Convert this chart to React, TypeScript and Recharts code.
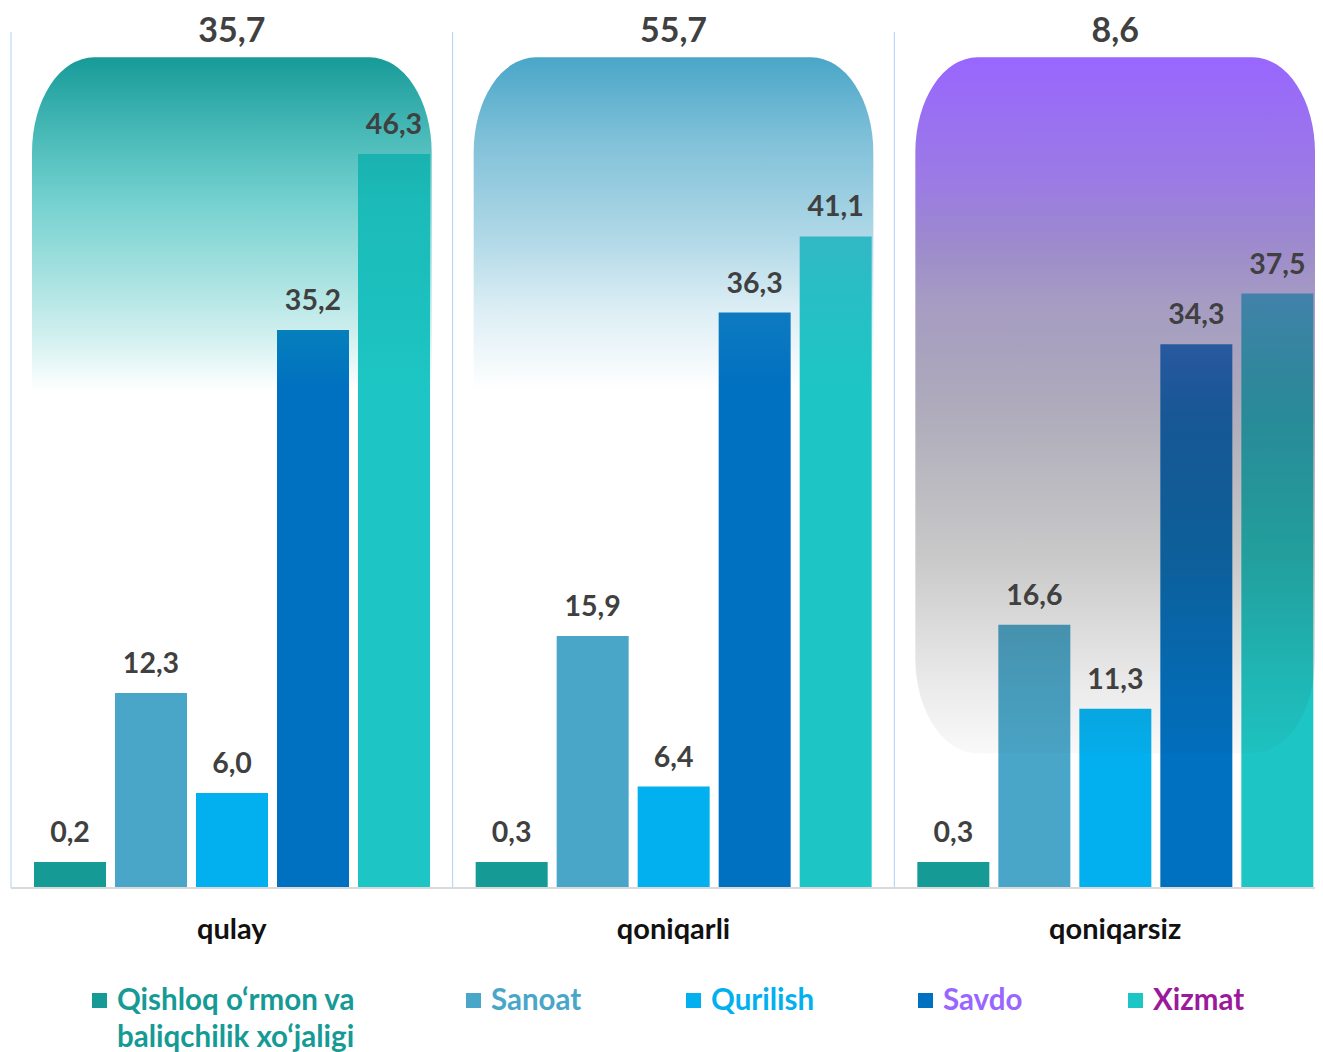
import React from "react";
import { BarChart, Bar, XAxis, YAxis, CartesianGrid, Legend, LabelList, ReferenceArea } from "recharts";

const categories = ["qulay", "qoniqarli", "qoniqarsiz"];
const groupShares = [35.7, 55.7, 8.6];

const seriesKeys = ["qishloq", "sanoat", "qurilish", "savdo", "xizmat"];
const seriesNames = ["Qishloq o‘rmon va baliqchilik xo‘jaligi", "Sanoat", "Qurilish", "Savdo", "Xizmat"];
const qishloq = [0.2, 0.3, 0.3];
const sanoat = [12.3, 15.9, 16.6];
const qurilish = [6.0, 6.4, 11.3];
const savdo = [35.2, 36.3, 34.3];
const xizmat = [46.3, 41.1, 37.5];

const barColors = ["#169a96", "#4aa6c8", "#03b0ef", "#0070c0", "#1dc6c4"];
const legendTextColors = ["#169a96", "#4aa6c8", "#03b0ef", "#9966ff", "#9b1a9b"];
const legendWidths = [374, 220, 232, 210, 180];

const data = categories.map((name, i) => ({
    name,
    share: groupShares[i],
    qishloq: qishloq[i],
    sanoat: sanoat[i],
    qurilish: qurilish[i],
    savdo: savdo[i],
    xizmat: xizmat[i],
}));

const FONT = "Lato, 'Noto Sans', sans-serif";
const fmt = (v: number) => v.toFixed(1).replace(".", ",");

// background panels behind each group (gradient stops: offset, colour, opacity)
const panels = [
    {
        cat: "qulay", y1: 31.4, y2: 52.4, roundBottom: false,
        stops: [[0, "#179a98", 1], [0.44, "#1ab3b0", 0.6], [0.655, "#1ab3b0", 0.39], [0.84, "#1ab3b0", 0.2], [1, "#1ab3b0", 0]],
    },
    {
        cat: "qoniqarli", y1: 31.4, y2: 52.4, roundBottom: false,
        stops: [[0, "#4aa6c8", 1], [0.25, "#4aa6c8", 0.7], [0.55, "#4aa6c8", 0.43], [0.75, "#4aa6c8", 0.2], [1, "#4aa6c8", 0]],
    },
    {
        cat: "qoniqarsiz", y1: 8.5, y2: 52.4, roundBottom: true,
        stops: [[0, "#9966ff", 1], [0.18, "#8a64e0", 0.85], [0.35, "#5d4b93", 0.55], [0.52, "#3a3258", 0.4], [0.72, "#303030", 0.26], [0.9, "#303030", 0.1], [1, "#303030", 0.03]],
    },
];

function Panel(props: any) {
    const { x, y, width, height, gid, stops, roundBottom } = props;
    const inset = 21;
    const x0 = x + inset;
    const x1 = x + width - inset;
    const y0 = y;
    const yb = y + height;
    const rx = 62;
    const ry = 95;
    let d = `M${x0},${yb} L${x0},${y0 + ry} A${rx},${ry} 0 0 1 ${x0 + rx},${y0} L${x1 - rx},${y0} A${rx},${ry} 0 0 1 ${x1},${y0 + ry}`;
    if (roundBottom) {
        d += ` L${x1},${yb - ry} A${rx},${ry} 0 0 1 ${x1 - rx},${yb} L${x0 + rx},${yb} A${rx},${ry} 0 0 1 ${x0},${yb - ry} Z`;
    } else {
        d += ` L${x1},${yb} Z`;
    }
    return (
        <g>
            <defs>
                <linearGradient id={gid} x1="0" y1="0" x2="0" y2="1">
                    {stops.map((s: any, i: number) => (
                        <stop key={i} offset={s[0]} stopColor={s[1]} stopOpacity={s[2]} />
                    ))}
                </linearGradient>
            </defs>
            <path d={d} fill={`url(#${gid})`} stroke="none" />
        </g>
    );
}

const BottomTick = (props: any) => (
    <text x={props.x} y={props.y + 51} textAnchor="middle" fontFamily={FONT} fontWeight={700} fontSize={29} fill="#111111">
        {props.payload.value}
    </text>
);

const TopTick = (props: any) => {
    const idx = categories.indexOf(props.payload.value);
    return (
        <text x={props.x} y={props.y + 10} textAnchor="middle" fontFamily={FONT} fontWeight={700} fontSize={34} fill="#404040">
            {fmt(groupShares[idx])}
        </text>
    );
};

const LegendContent = () => (
    <div style={{ display: "flex", paddingLeft: 84, paddingTop: 22, fontFamily: FONT, fontWeight: 700, fontSize: 29.5, lineHeight: "37px" }}>
        {seriesNames.map((n, i) => (
            <div key={n} style={{ width: legendWidths[i], display: "flex", alignItems: "flex-start", flex: "0 0 auto" }}>
                <span style={{ width: 15, height: 15, background: barColors[i], marginTop: 13, marginRight: 10, flex: "0 0 auto" }} />
                <span style={{ color: legendTextColors[i], width: i === 0 ? 280 : "auto", whiteSpace: i === 0 ? "normal" : "nowrap" }}>{n}</span>
            </div>
        ))}
    </div>
);

export default function App() {
    return (
        <div style={{ width: 1315, height: 1044, overflow: "hidden" }}>
            <BarChart
                width={1328}
                height={1044}
                data={data}
                margin={{ top: 0, right: 0, left: 3, bottom: 0 }}
                barCategoryGap={23}
                barGap={9}
            >
                <CartesianGrid
                    horizontal={false}
                    stroke="#b0d0f4"
                    verticalCoordinatesGenerator={({ offset }: any) => [
                        offset.left,
                        offset.left + offset.width / 3,
                        offset.left + (2 * offset.width) / 3,
                    ]}
                />
                <XAxis
                    dataKey="name"
                    interval={0}
                    height={70}
                    axisLine={{ stroke: "#d9d9d9", strokeWidth: 2 }}
                    tickLine={false}
                    tickSize={0}
                    tickMargin={0}
                    tick={BottomTick}
                />
                <XAxis
                    xAxisId="top"
                    dataKey="name"
                    orientation="top"
                    interval={0}
                    height={24}
                    axisLine={false}
                    tickLine={false}
                    tickSize={0}
                    tickMargin={0}
                    tick={TopTick}
                />
                <YAxis hide domain={[0, 54]} />
                {seriesKeys.map((k, i) => (
                    <Bar key={k} dataKey={k} name={seriesNames[i]} fill={barColors[i]} isAnimationActive={false} minPointSize={k === "qishloq" ? 26 : 0}>
                        <LabelList
                            dataKey={k}
                            position="top"
                            offset={20}
                            formatter={(v: any) => fmt(Number(v))}
                            style={{ fontFamily: FONT, fontWeight: 700, fontSize: 28.5, fill: "#404040" }}
                        />
                    </Bar>
                ))}
                {panels.map((p, i) => (
                    <ReferenceArea
                        key={p.cat}
                        x1={p.cat}
                        x2={p.cat}
                        y1={p.y1}
                        y2={p.y2}
                        ifOverflow="visible"
                        zIndex={350}
                        shape={(sp: any) => <Panel {...sp} gid={`panel${i}`} stops={p.stops} roundBottom={p.roundBottom} />}
                    />
                ))}
                <Legend verticalAlign="bottom" height={94} wrapperStyle={{ left: 0, width: 1315 }} content={LegendContent} />
            </BarChart>
        </div>
    );
}
